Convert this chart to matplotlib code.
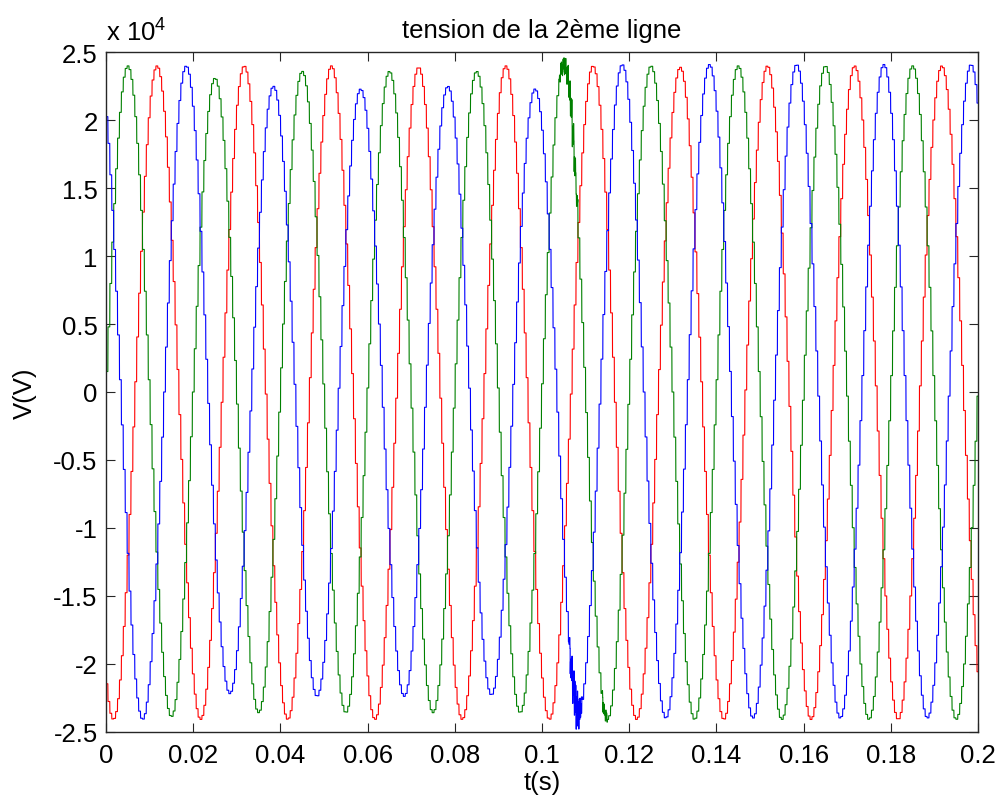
import numpy as np
import matplotlib
matplotlib.use("Agg")
import matplotlib.pyplot as plt
from matplotlib.ticker import FuncFormatter

plt.rcParams['font.family'] = ['Liberation Sans', 'DejaVu Sans']
plt.rcParams['mathtext.fontset'] = 'custom'
plt.rcParams['mathtext.rm'] = 'Liberation Sans'
plt.rcParams['mathtext.it'] = 'Liberation Sans'
plt.rcParams['axes.unicode_minus'] = False

# --- values (voltages in units of 1e4 V) ---
freq = 50.0            # Hz, 10 cycles over 0.2 s
hold_step = 0.00044    # s, staircase step of the sampled signal
t_end = 0.2
half_period = 0.01

# time of one positive peak of each phase (s)
peak_red = 0.0115
peak_green = 0.0048
peak_blue = 0.0182

# |extremum| of each half cycle, from two half cycles before the peak time on
red_ext = [2.40, 2.41, 2.40, 2.41, 2.40, 2.41, 2.40, 2.41, 2.39, 2.41, 2.40, 2.41,
           2.40, 2.41, 2.39, 2.41, 2.40, 2.41, 2.40, 2.41, 2.40, 2.41, 2.40]
green_ext = [2.40, 2.40, 2.40, 2.39, 2.31, 2.36, 2.36, 2.36, 2.36, 2.36, 2.36, 2.36,
             2.41, 2.41, 2.40, 2.41, 2.40, 2.41, 2.40, 2.41, 2.40, 2.41, 2.40]
blue_ext = [2.40, 2.41, 2.40, 2.22, 2.25, 2.24, 2.23, 2.24, 2.25, 2.23, 2.23, 2.36,
            2.41, 2.40, 2.41, 2.40, 2.41, 2.40, 2.41, 2.40, 2.41, 2.40, 2.41]

# disturbance around t = 0.105 s (offsets, 1e4 V, one value per 0.1 ms)
burst_step = 0.0001
green_burst_t0 = 0.1040
green_burst = [0.03, -0.02, 0.04, -0.03, 0.05, -0.04, 0.03, -0.05, 0.04, -0.03,
               0.05, -0.06, 0.04, -0.05, 0.06, -0.04, 0.05, -0.07, 0.06, -0.05,
               0.07, -0.06, 0.05, -0.08, 0.06, -0.05, 0.08, -0.06, 0.07, -0.09,
               0.06, -0.07, 0.08, -0.05, 0.06, -0.08, 0.05, -0.06, 0.04, -0.05,
               0.03, -0.02]
blue_burst_t0 = 0.1062
blue_burst = [-0.02, 0.03, -0.05, 0.04, -0.08, 0.06, -0.10, 0.08, -0.12, 0.10,
              -0.06, 0.12, -0.10, 0.15, -0.08, 0.12, -0.14, 0.10, -0.06, 0.14,
              -0.10, 0.08, -0.12, 0.10, -0.05, 0.08, -0.06, 0.04, -0.03, 0.02]
green_low_t0 = 0.1138
green_low = [0.02, -0.03, 0.04, -0.04, 0.03, -0.05, 0.04, -0.03, 0.05, -0.02,
             0.03, -0.02]

xticks = [0, 0.02, 0.04, 0.06, 0.08, 0.1, 0.12, 0.14, 0.16, 0.18, 0.2]
yticks = [-2.5, -2, -1.5, -1, -0.5, 0, 0.5, 1, 1.5, 2, 2.5]

# --- build the sampled waveforms ---
t = np.arange(0, t_end + 1e-9, 2e-5)
t_hold = np.floor(t / hold_step + 1e-9) * hold_step
w = 2 * np.pi * freq


def phase(tp, ext, bursts=()):
    ext = np.asarray(ext)
    k = np.round((t_hold - tp) / half_period).astype(int) + 2
    v = ext[np.clip(k, 0, len(ext) - 1)] * np.cos(w * (t_hold - tp))
    for t0, vals in bursts:
        idx = np.floor((t - t0) / burst_step).astype(int)
        ok = (idx >= 0) & (idx < len(vals))
        v[ok] += np.asarray(vals)[idx[ok]]
    return v * 1e4


v_red = phase(peak_red, red_ext)
v_green = phase(peak_green, green_ext,
                [(green_burst_t0, green_burst), (green_low_t0, green_low)])
v_blue = phase(peak_blue, blue_ext, [(blue_burst_t0, blue_burst)])

# --- figure ---
fig = plt.figure(figsize=(10.05, 8.03), dpi=100)
ax = fig.add_axes([106 / 1005, 1 - 732.7 / 803, 872 / 1005, 679.4 / 803])

ax.plot(t, v_red, color='#ff0000', lw=0.8)
ax.plot(t, v_green, color='#008000', lw=0.8)
ax.plot(t, v_blue, color='#0000ff', lw=0.8)

ax.set_xlim(0, 0.2)
ax.set_ylim(-2.5e4, 2.5e4)
ax.set_xticks(xticks)
ax.set_yticks([y * 1e4 for y in yticks])
ax.xaxis.set_major_formatter(FuncFormatter(lambda v, p: f'{v:g}'))
ax.yaxis.set_major_formatter(FuncFormatter(lambda v, p: f'{v / 1e4:g}'))

fs = 18.5
ax.tick_params(direction='in', top=True, right=True, length=6.5, width=0.8,
               labelsize=fs, colors='#262626', labelcolor='black')
ax.tick_params(axis='x', pad=8)
ax.tick_params(axis='y', pad=6)
for s in ax.spines.values():
    s.set_linewidth(1.0)
    s.set_color('#262626')

ax.set_title('tension de la 2ème ligne', fontsize=fs, pad=11)
ax.set_xlabel('t(s)', fontsize=fs)
ax.set_ylabel('V(V)', fontsize=fs)
ax.xaxis.set_label_coords(0.5, -0.057)
ax.yaxis.set_label_coords(-0.079, 0.5)
ax.text(0.0, 1.017, 'x 10$^4$', transform=ax.transAxes, fontsize=fs,
        ha='left', va='baseline')

fig.savefig('out.png', dpi=100)
